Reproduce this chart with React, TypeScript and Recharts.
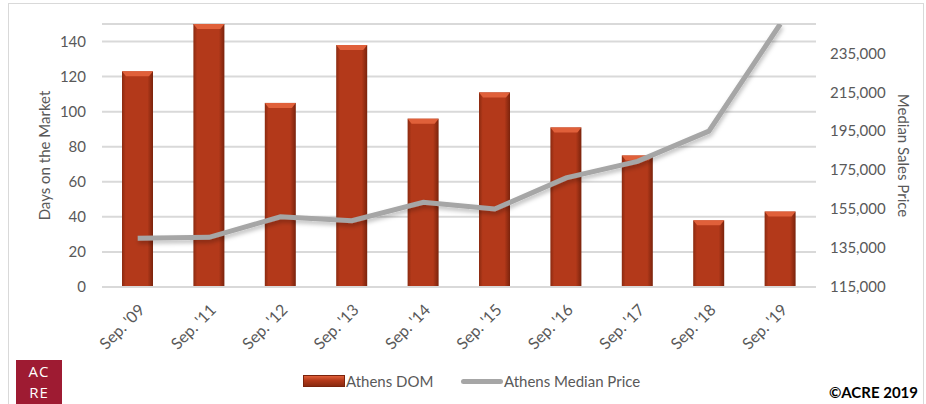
import { Bar, ComposedChart, CartesianGrid, Line, XAxis, YAxis, Label } from "recharts";

const categories = ["Sep. '09", "Sep. '11", "Sep. '12", "Sep. '13", "Sep. '14", "Sep. '15", "Sep. '16", "Sep. '17", "Sep. '18", "Sep. '19"];
const domValues = [123, 150, 105, 138, 96, 111, 91, 75, 38, 43];
const priceValues = [140000, 140500, 151000, 149000, 158500, 155000, 171000, 179500, 195000, 250000];
const domTicks = [0, 20, 40, 60, 80, 100, 120, 140];
const priceTicks = [115000, 135000, 155000, 175000, 195000, 215000, 235000];

const chartData = categories.map((name, i) => ({
  name,
  dom: domValues[i],
  price: priceValues[i],
}));

const font = "Lato, 'Open Sans', sans-serif";
const textColor = "#595959";

// bar with dark edges and a lighter bevel on top
const BeveledBar = (props: any) => {
  const { x, y, width, height } = props;
  if (!height || height <= 0) return null;
  const bevel = Math.min(5, height);
  return (
    <g>
      <rect x={x} y={y} width={width} height={height} fill="url(#barFill)" />
      <path
        d={`M${x},${y} L${x + width},${y} L${x + width - 4},${y + bevel} L${x + 4},${y + bevel} Z`}
        fill="#e0603a"
      />
    </g>
  );
};

export default function App() {
  return (
    <div style={{ position: "absolute", left: 0, top: 0, width: 926, height: 404, background: "#fff", fontFamily: font, overflow: "hidden" }}>
      <div style={{ position: "absolute", left: 8, top: 3, width: 914, height: 420, border: "1px solid #d9d9d9" }} />
      <ComposedChart
        width={926}
        height={404}
        data={chartData}
        margin={{ top: 24, right: 0, left: 0, bottom: 0 }}
        style={{ position: "absolute", left: 0, top: 0 }}
      >
        <defs>
          <linearGradient id="barFill" x1="0" y1="0" x2="1" y2="0">
            <stop offset="0%" stopColor="#8a2a10" />
            <stop offset="12%" stopColor="#b3391a" />
            <stop offset="82%" stopColor="#b3391a" />
            <stop offset="100%" stopColor="#7a230c" />
          </linearGradient>
          <filter id="lineShadow" x="-10%" y="-10%" width="120%" height="130%">
            <feDropShadow dx="1" dy="3" stdDeviation="2" floodColor="#000" floodOpacity="0.25" />
          </filter>
        </defs>
        <CartesianGrid vertical={false} stroke="#d9d9d9" strokeWidth={2} yAxisId="dom" />
        <XAxis
          dataKey="name"
          height={117}
          tickLine={false}
          axisLine={{ stroke: "#d9d9d9", strokeWidth: 2 }}
          interval={0}
          tick={{ fill: textColor, fontSize: 16, fontFamily: font }}
          angle={-45}
          textAnchor="end"
          tickMargin={10}
        />
        <YAxis
          yAxisId="dom"
          orientation="left"
          width={102}
          domain={[0, 150]}
          ticks={domTicks}
          allowDataOverflow
          tickLine={false}
          axisLine={false}
          tickSize={0}
          tickMargin={16}
          tick={{ fill: textColor, fontSize: 15, fontFamily: font }}
        >
          <Label
            content={({ viewBox }: any) => (
              <text
                x={viewBox.x + 50}
                y={viewBox.y + viewBox.height / 2}
                transform={`rotate(-90, ${viewBox.x + 50}, ${viewBox.y + viewBox.height / 2})`}
                textAnchor="middle"
                fill={textColor}
                fontSize={15}
                fontFamily={font}
              >
                Days on the Market
              </text>
            )}
          />
        </YAxis>
        <YAxis
          yAxisId="price"
          orientation="right"
          width={110}
          domain={[115000, 250000]}
          ticks={priceTicks}
          allowDataOverflow
          tickLine={false}
          axisLine={false}
          tickSize={0}
          tickMargin={14}
          tickFormatter={(v: number) => v.toLocaleString("en-US")}
          tick={{ fill: textColor, fontSize: 15, fontFamily: font, textAnchor: "start" }}
        >
          <Label
            content={({ viewBox }: any) => (
              <text
                x={viewBox.x + 82}
                y={viewBox.y + viewBox.height / 2}
                transform={`rotate(90, ${viewBox.x + 82}, ${viewBox.y + viewBox.height / 2})`}
                textAnchor="middle"
                fill={textColor}
                fontSize={15}
                fontFamily={font}
              >
                Median Sales Price
              </text>
            )}
          />
        </YAxis>
        <Bar yAxisId="dom" dataKey="dom" barSize={31} shape={BeveledBar} isAnimationActive={false} />
        <Line
          yAxisId="price"
          dataKey="price"
          stroke="#a6a6a6"
          strokeWidth={5}
          dot={false}
          activeDot={false}
          filter="url(#lineShadow)"
          isAnimationActive={false}
        />
      </ComposedChart>

      {/* legend */}
      <div style={{ position: "absolute", left: 303, top: 370, height: 22, display: "flex", alignItems: "center", fontSize: 15, color: textColor }}>
        <div style={{ width: 42, height: 12, background: "linear-gradient(to bottom, #e0603a, #b3391a 45%, #8a2a10)", border: "1px solid #7a230c", boxSizing: "border-box" }} />
        <span style={{ marginLeft: 1 }}>Athens DOM</span>
      </div>
      <div style={{ position: "absolute", left: 461, top: 370, height: 22, display: "flex", alignItems: "center", fontSize: 15, color: textColor }}>
        <div style={{ width: 42, height: 5, background: "#a6a6a6", borderRadius: 3 }} />
        <span style={{ marginLeft: 1 }}>Athens Median Price</span>
      </div>

      {/* logo */}
      <div style={{ position: "absolute", left: 16, top: 360, width: 46, height: 44, background: "#9e1b32", color: "#fff", fontFamily: "'Open Sans', sans-serif", fontSize: 15, lineHeight: "21px", textAlign: "center", paddingTop: 1, boxSizing: "border-box", letterSpacing: 1 }}>
        <div>AC</div>
        <div>RE</div>
      </div>

      <div style={{ position: "absolute", right: 8, top: 383, fontSize: 15, fontWeight: 700, color: "#000", fontFamily: font }}>
        ©ACRE 2019
      </div>
    </div>
  );
}
